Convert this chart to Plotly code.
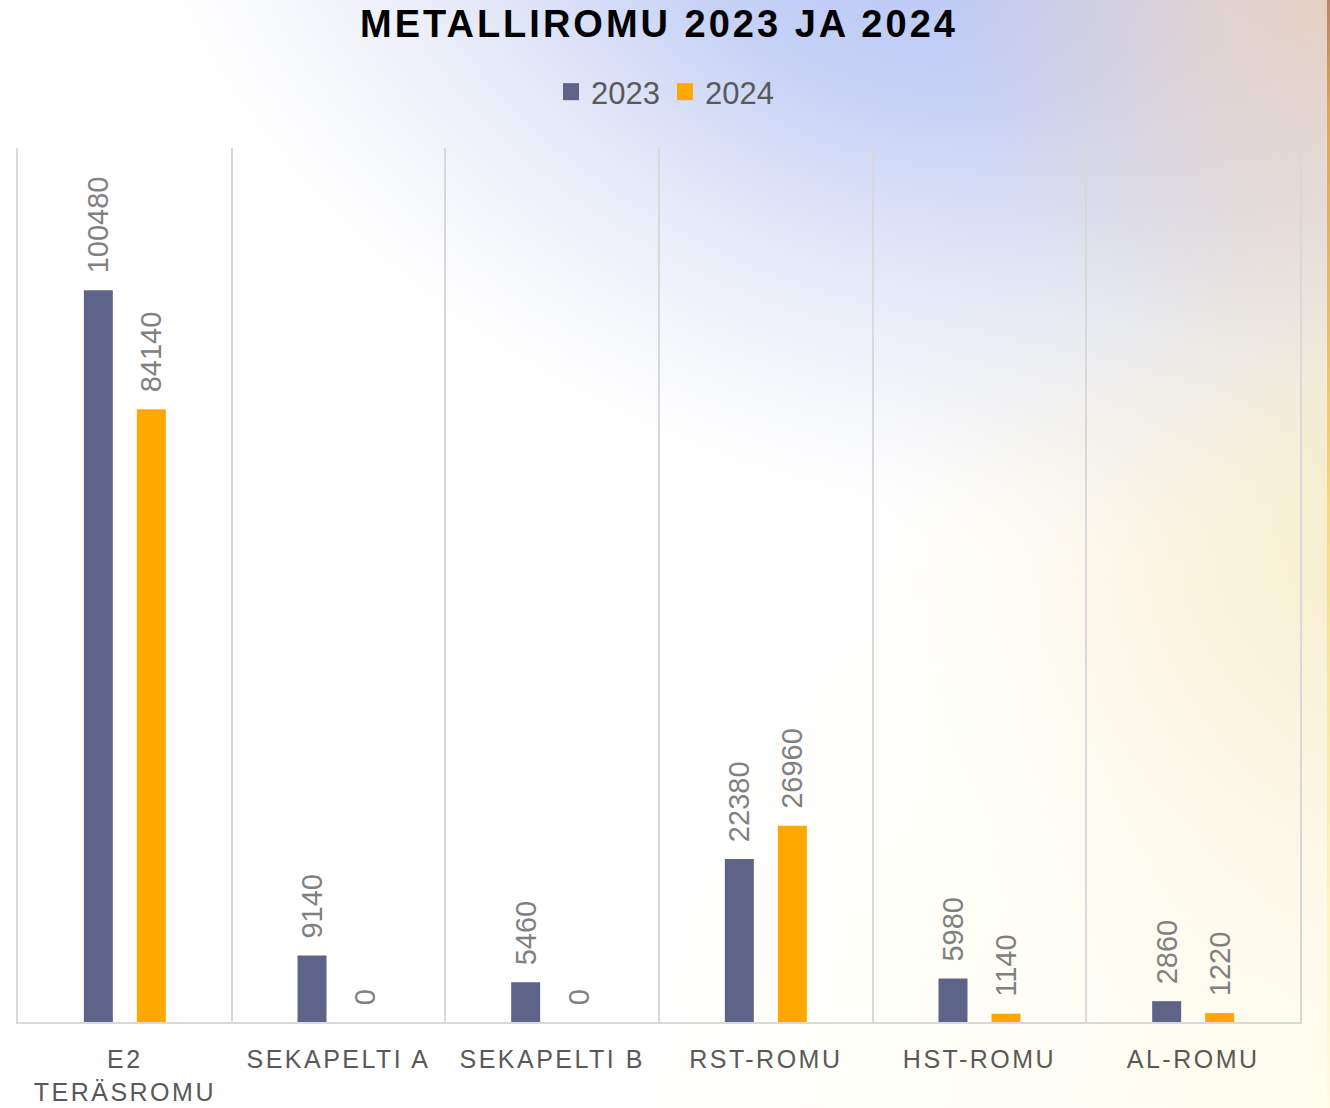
import base64
import plotly.graph_objects as go

# ---- data ----
categories = ["E2<br>TERÄSROMU", "SEKAPELTI A", "SEKAPELTI B", "RST-ROMU", "HST-ROMU", "AL-ROMU"]
series_names = ["2023", "2024"]
values_2023 = [100480, 9140, 5460, 22380, 5980, 2860]
values_2024 = [84140, 0, 0, 26960, 1140, 1220]
title_text = "METALLIROMU 2023 JA 2024"

W, H = 1330, 1108
ML, MR, MT, MB = 18, 30, 148, 86
PW, PH = W - ML - MR, H - MT - MB

# ---- gradient background as svg ----
svg = f'''<svg xmlns="http://www.w3.org/2000/svg" width="{W}" height="{H}" viewBox="0 0 {W} {H}">
<defs>
<radialGradient id="cream" gradientUnits="userSpaceOnUse" cx="1330" cy="1108" r="700">
<stop offset="0" stop-color="#fefcec" stop-opacity="1"/>
<stop offset="1" stop-color="#fefcec" stop-opacity="0"/>
</radialGradient>
<radialGradient id="warm" gradientUnits="userSpaceOnUse" cx="0" cy="0" r="1"
  gradientTransform="translate(1400 470) scale(540 640)">
<stop offset="0" stop-color="#f6e8bc" stop-opacity="0.95"/>
<stop offset="0.45" stop-color="#f8eed0" stop-opacity="0.6"/>
<stop offset="1" stop-color="#fdf8e6" stop-opacity="0"/>
</radialGradient>
<radialGradient id="blue" gradientUnits="userSpaceOnUse" cx="0" cy="0" r="1"
  gradientTransform="translate(900 -90) rotate(22) scale(900 640)">
<stop offset="0" stop-color="#b8c6f5" stop-opacity="1"/>
<stop offset="0.3" stop-color="#c2cef5" stop-opacity="0.92"/>
<stop offset="0.55" stop-color="#cdd6f3" stop-opacity="0.55"/>
<stop offset="0.8" stop-color="#dde2f2" stop-opacity="0.2"/>
<stop offset="1" stop-color="#ffffff" stop-opacity="0"/>
</radialGradient>
<radialGradient id="rose" gradientUnits="userSpaceOnUse" cx="1330" cy="0" r="380">
<stop offset="0" stop-color="#e6cfc0" stop-opacity="0.95"/>
<stop offset="1" stop-color="#e6cfc0" stop-opacity="0"/>
</radialGradient>
<linearGradient id="edge" x1="0" y1="0" x2="0" y2="1">
<stop offset="0" stop-color="#b2866c"/>
<stop offset="0.1" stop-color="#d9a65a"/>
<stop offset="0.3" stop-color="#e6c068"/>
<stop offset="0.5" stop-color="#f3df8e"/>
<stop offset="0.75" stop-color="#faf1b8"/>
<stop offset="1" stop-color="#fdfbe4"/>
</linearGradient>
</defs>
<rect width="{W}" height="{H}" fill="#ffffff"/>
<rect width="{W}" height="{H}" fill="url(#cream)"/>
<rect width="{W}" height="{H}" fill="url(#warm)"/>
<rect width="{W}" height="{H}" fill="url(#blue)"/>
<rect width="{W}" height="{H}" fill="url(#rose)"/>
<rect x="1327" y="0" width="3" height="{H}" fill="url(#edge)"/>
</svg>'''
bg_uri = "data:image/svg+xml;base64," + base64.b64encode(svg.encode("utf-8")).decode("ascii")

colors = ["#5e6487", "#ffa800"]
label_font = dict(family="Liberation Sans, Arial, sans-serif", size=29, color="#808080")

fig = go.Figure()
for name, vals, col in zip(series_names, [values_2023, values_2024], colors):
    fig.add_trace(go.Bar(
        name=name, x=categories, y=vals,
        marker=dict(color=col, line=dict(width=0)),
        texttemplate="\u00a0\u2009%{y:.0f}", textposition="outside", textangle=-90,
        textfont=label_font, constraintext="none", cliponaxis=False,
        hoverinfo="x+y",
    ))

fig.update_layout(
    width=W, height=H,
    margin=dict(l=ML, r=MR, t=MT, b=MB, pad=0, autoexpand=False),
    paper_bgcolor="#ffffff", plot_bgcolor="rgba(0,0,0,0)",
    barmode="group", bargap=0.504, bargroupgap=0.453,
    title=dict(text=title_text, x=0.5, xanchor="center", xref="paper",
               y=1 - 24 / H, yanchor="middle", yref="container",
               font=dict(family="Liberation Sans, Arial, sans-serif", size=38, color="#000000", weight="bold")),
    legend=dict(orientation="h", xref="container", x=0.5, xanchor="center",
                yref="container", y=1 - 92 / H, yanchor="middle",
                font=dict(family="Liberation Sans, Arial, sans-serif", size=31, color="#595959"),
                bgcolor="rgba(0,0,0,0)", itemwidth=30),
    showlegend=True,
    images=[dict(source=bg_uri, xref="paper", yref="paper",
                 x=-ML / PW, y=1 + MT / PH, sizex=W / PW, sizey=H / PH,
                 xanchor="left", yanchor="top", sizing="stretch", layer="below")],
)
fig.update_xaxes(
    showgrid=True, gridcolor="#d9d9d9", gridwidth=1.5, tickson="boundaries",
    showline=True, linecolor="#d9d9d9", linewidth=2,
    ticks="", ticklabelstandoff=14, automargin=False,
    tickfont=dict(family="Liberation Sans, Arial, sans-serif", size=25, color="#595959"),
    range=[-0.5, 5.5], zeroline=False,
)
fig.update_yaxes(
    range=[0, 120000], showgrid=False, zeroline=False, showticklabels=False,
    showline=True, mirror=True, linecolor="#d9d9d9", linewidth=1.5, ticks="",
    automargin=False,
)

post = """
document.body.style.margin='0';
var gd = document.getElementById('{plot_id}');
function sp(){
  gd.querySelectorAll('.gtitle').forEach(function(e){e.style.letterSpacing='3px';});
  gd.querySelectorAll('.xtick text').forEach(function(e){e.style.letterSpacing='2.5px';});
  gd.querySelectorAll('.legend .legendpoints path').forEach(function(p){
    p.setAttribute('d','M8,8.5H-8V-8.5H8Z');
  });
}
sp();
gd.on('plotly_afterplot', sp);
"""
fig.write_html("out.html", post_script=post, config={"displayModeBar": False})
